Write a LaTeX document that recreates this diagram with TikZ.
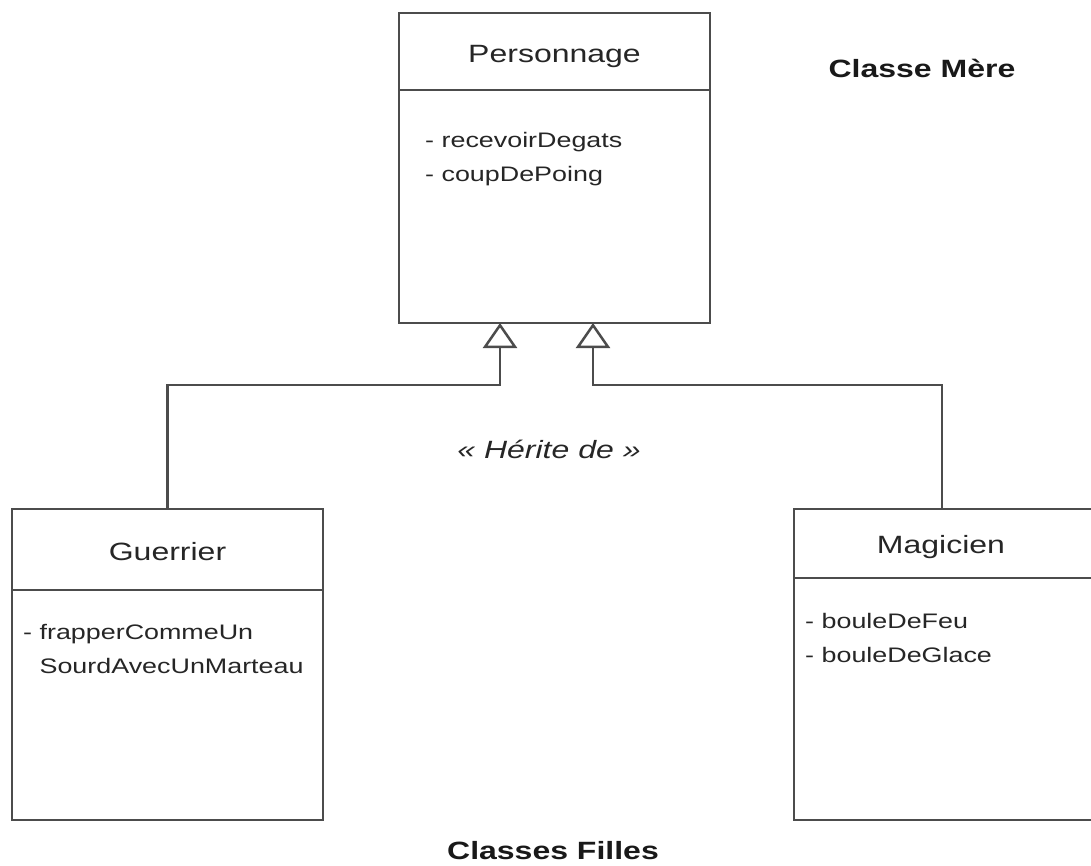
\documentclass[tikz,border=0pt]{standalone}
\usepackage{fontspec}
\setmainfont{Liberation Sans}[FakeStretch=1.28]
\usetikzlibrary{arrows.meta}

\begin{document}
\begin{tikzpicture}[
    x=1pt, y=-1pt,
    classbox/.style={rectangle, draw=black!70, line width=2.5pt, fill=white, anchor=north west, minimum width=311pt, minimum height=311pt, inner sep=0pt, outer sep=0pt},
    classline/.style={draw=black!70, line width=2.5pt},
    classtitle/.style={anchor=base, inner sep=0pt, text=black!85, font=\fontsize{25}{30}\selectfont},
    classops/.style={anchor=base west, inner sep=0pt, text=black!85, align=left, font=\fontsize{21}{34}\selectfont},
    caption/.style={anchor=base, inner sep=0pt, text=black!90, font=\fontsize{25}{30}\selectfont\bfseries},
    inherit/.style={draw=black!70, line width=2.5pt, -{Triangle[open, length=25pt, width=34pt, fill=white]}}
]
\clip (0,0) rectangle (1091,865);

% ==================== CLASSE MERE ====================
\node[classbox, minimum height=310pt] (perso) at (399,13) {};
\draw[classline] (perso.west |- 0,90) -- (perso.east |- 0,90);
\node[classtitle] (perso_t) at (554.5,62) {Personnage};
\node[classops] (perso_m) at (425,181) {- recevoirDegats\\- coupDePoing};
\node[caption] (mere) at (922,77) {Classe Mère};

% ==================== CLASSES FILLES ====================
\node[classbox] (guerrier) at (12,509) {};
\draw[classline] (guerrier.west |- 0,590) -- (guerrier.east |- 0,590);
\node[classtitle] (guerrier_t) at (167.5,560) {Guerrier};
\node[classops] (guerrier_m) at (23,673) {- frapperCommeUn\\\phantom{- }SourdAvecUnMarteau};

\node[classbox] (magicien) at (794,509) {};
\draw[classline] (magicien.west |- 0,578) -- (magicien.east |- 0,578);
\node[classtitle] (magicien_t) at (941,553) {Magicien};
\node[classops] (magicien_m) at (805,662) {- bouleDeFeu\\- bouleDeGlace};

\node[caption] (filles) at (553,859) {Classes Filles};

% ==================== HERITAGE ====================
\coordinate (jointL) at (500,385);
\coordinate (jointR) at (593,385);
\coordinate (magtop) at (942,509);
\draw[inherit] (guerrier.north) |- (jointL) -- (jointL |- perso.south);
\draw[inherit] (magtop) |- (jointR) -- (jointR |- perso.south);
\node[anchor=base, inner sep=0pt, text=black!85, font=\fontsize{25}{30}\selectfont\itshape] (herite) at (549,458) {« Hérite de »};

\end{tikzpicture}
\end{document}
